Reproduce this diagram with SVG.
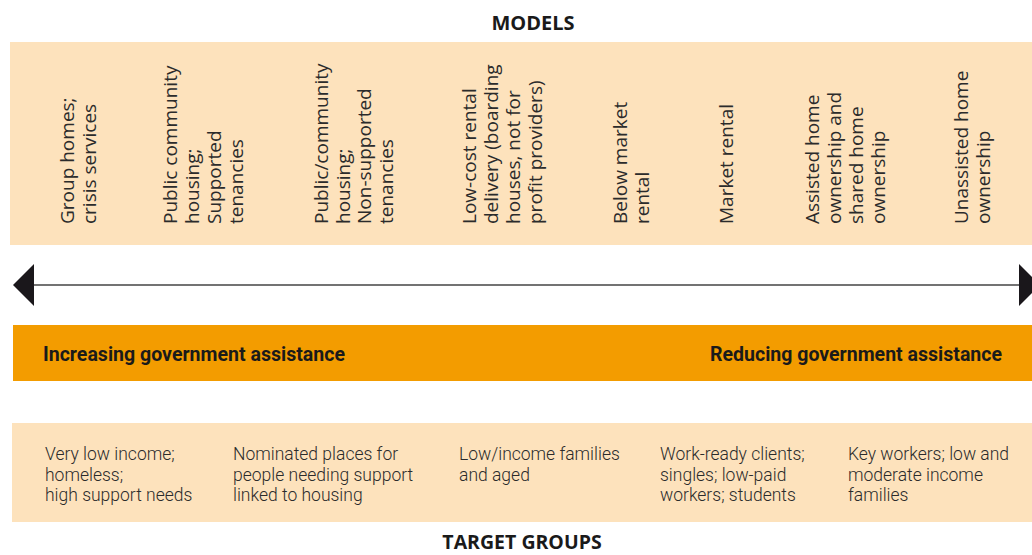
<svg xmlns="http://www.w3.org/2000/svg" width="1032" height="555" viewBox="0 0 1032 555">
<style>
.panel{fill:#FDE2BC}
.bar{fill:#F39C00}
.head{font-family:"Open Sans","Liberation Sans",sans-serif;font-weight:bold;font-size:20px;fill:#1a1a1a;text-anchor:middle}
.vt{font-family:"Open Sans","Liberation Sans",sans-serif;font-size:19px;fill:#2b2b2b}
.tg{font-family:Roboto,"Liberation Sans",sans-serif;font-weight:300;font-size:17.5px;fill:#2b2b2b}
.bt{font-family:Roboto,"Liberation Sans",sans-serif;font-weight:bold;font-size:19.5px;fill:#1a1a1a}
.arrowhead{fill:#1a171b}
</style>
<rect width="1032" height="555" fill="#ffffff"/>
<g id="title-models"><text class="head" x="533" y="30">MODELS</text></g>
<g id="models">
<rect class="panel" x="10" y="42" width="1022" height="203"/>
<g id="m1" class="vt"><text transform="translate(0,224) rotate(-90)"><tspan x="0" y="74">Group homes;</tspan><tspan x="0" y="96">crisis services</tspan></text></g>
<g id="m2" class="vt"><text transform="translate(0,224) rotate(-90)"><tspan x="0" y="177">Public community</tspan><tspan x="0" y="199">housing;</tspan><tspan x="0" y="221">Supported</tspan><tspan x="0" y="243">tenancies</tspan></text></g>
<g id="m3" class="vt"><text transform="translate(0,224) rotate(-90)"><tspan x="0" y="328">Public/community</tspan><tspan x="0" y="350">housing;</tspan><tspan x="0" y="371">Non-supported</tspan><tspan x="0" y="393">tenancies</tspan></text></g>
<g id="m4" class="vt"><text transform="translate(0,224) rotate(-90)"><tspan x="0" y="476">Low-cost rental</tspan><tspan x="0" y="498">delivery (boarding</tspan><tspan x="0" y="520">houses, not for</tspan><tspan x="0" y="542">profit providers)</tspan></text></g>
<g id="m5" class="vt"><text transform="translate(0,224) rotate(-90)"><tspan x="0" y="627">Below market</tspan><tspan x="0" y="649">rental</tspan></text></g>
<g id="m6" class="vt"><text transform="translate(0,224) rotate(-90)"><tspan x="0" y="733">Market rental</tspan></text></g>
<g id="m7" class="vt"><text transform="translate(0,224) rotate(-90)"><tspan x="0" y="819">Assisted home</tspan><tspan x="0" y="841">ownership and</tspan><tspan x="0" y="863">shared home</tspan><tspan x="0" y="885">ownership</tspan></text></g>
<g id="m8" class="vt"><text transform="translate(0,224) rotate(-90)"><tspan x="0" y="968">Unassisted home</tspan><tspan x="0" y="990">ownership</tspan></text></g>
</g>
<g id="connectors">
<line x1="30" y1="285" x2="1022" y2="285" stroke="#444" stroke-width="1.6"/>
<polygon class="arrowhead" points="13,285 34,264 34,306"/>
<polygon class="arrowhead" points="1040,285 1019,264 1019,306"/>
</g>
<g id="assistance-bar">
<rect class="bar" x="13" y="325" width="1019" height="56"/>
<text class="bt" x="43" y="361" textLength="302" lengthAdjust="spacingAndGlyphs">Increasing government assistance</text>
<text class="bt" x="710" y="361" textLength="292" lengthAdjust="spacingAndGlyphs">Reducing government assistance</text>
</g>
<g id="target-groups">
<rect class="panel" x="12" y="423" width="1020" height="99"/>
<g id="t1" class="tg"><text><tspan x="45" y="460">Very low income;</tspan><tspan x="45" y="481">homeless;</tspan><tspan x="45" y="501">high support needs</tspan></text></g>
<g id="t2" class="tg"><text><tspan x="233" y="460">Nominated places for</tspan><tspan x="233" y="481">people needing support</tspan><tspan x="233" y="501">linked to housing</tspan></text></g>
<g id="t3" class="tg"><text><tspan x="459" y="460">Low/income families</tspan><tspan x="459" y="481">and aged</tspan></text></g>
<g id="t4" class="tg"><text><tspan x="660" y="460">Work-ready clients;</tspan><tspan x="660" y="481">singles; low-paid</tspan><tspan x="660" y="501">workers; students</tspan></text></g>
<g id="t5" class="tg"><text><tspan x="848" y="460">Key workers; low and</tspan><tspan x="848" y="481">moderate income</tspan><tspan x="848" y="501">families</tspan></text></g>
</g>
<g id="title-target"><text class="head" x="522" y="549" style="font-size:19.5px">TARGET GROUPS</text></g>
</svg>
